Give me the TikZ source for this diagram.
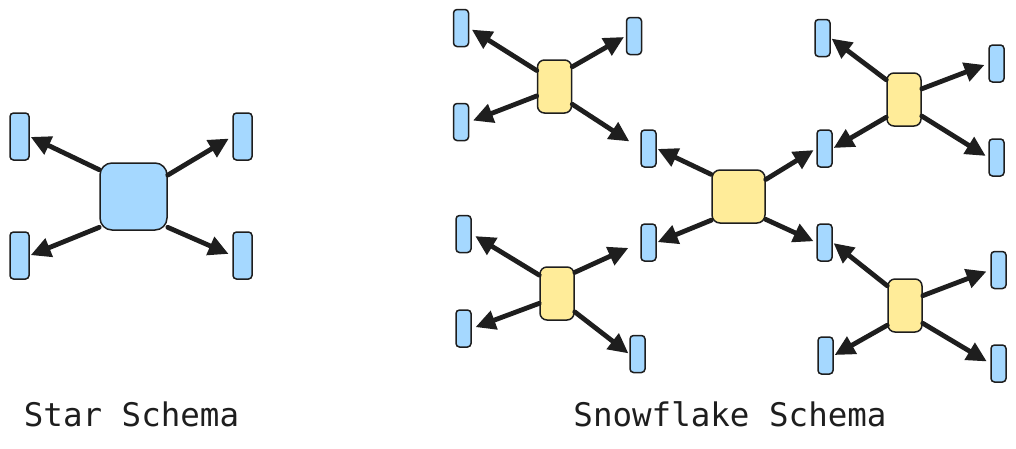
\documentclass[tikz,border=0pt]{standalone}
\usepackage{fontspec}
\newfontfamily\labelfont{DejaVu Sans Mono}
\usetikzlibrary{arrows.meta}
\definecolor{ink}{HTML}{1E1E1E}
\definecolor{dimblue}{HTML}{A5D8FF}
\definecolor{hubyellow}{HTML}{FFEC99}
\tikzset{
  dimbox/.style={draw=ink, line width=1.5pt, fill=dimblue, rounded corners=3.5pt,
    minimum width=15pt, minimum height=37pt, inner sep=0pt},
  stardim/.style={dimbox, minimum width=19pt, minimum height=47pt},
  starfact/.style={draw=ink, line width=1.5pt, fill=dimblue, rounded corners=12pt,
    minimum width=67pt, minimum height=67pt, inner sep=0pt},
  hubfact/.style={draw=ink, line width=1.5pt, fill=hubyellow, rounded corners=8pt,
    minimum width=53pt, minimum height=53pt, inner sep=0pt},
  subhub/.style={hubfact, minimum width=34pt, minimum height=53pt, rounded corners=7pt},
  link/.style={draw=ink, line width=4.8pt, line cap=round, line join=round,
    -{Triangle[length=20pt,width=19pt]}},
  caption/.style={font=\labelfont\fontsize{32.5}{36}\selectfont, text=ink, inner sep=0pt, anchor=base}
}
\begin{document}
\begin{tikzpicture}[x=1pt,y=-1pt]
\useasboundingbox (0,0) rectangle (1016,448);
% ---------- Star schema ----------
\node[starfact] (S) at (133.5,196.5) {};
\node[stardim] (s1) at (19.5,136.5) {};
\node[stardim] (s2) at (242.5,136.5) {};
\node[stardim] (s3) at (19.5,255.5) {};
\node[stardim] (s4) at (242.5,255.5) {};
\draw[link, shorten >=1pt] (S.142) -- (s1.east);
\draw[link, shorten >=4pt] (S.32) -- (s2.west);
\draw[link, shorten >=1pt] (S.222) -- (s3.east);
\draw[link, shorten >=4pt] (S.318.5) -- (s4.west);
\node[caption] (starlabel) at (131.5,426) {Star Schema};
% ---------- Snowflake schema ----------
\node[hubfact] (C) at (738.5,196.5) {};
\node[dimbox] (c1) at (648.5,148.5) {};
\node[dimbox] (c2) at (824.5,148.5) {};
\node[dimbox] (c3) at (648.5,242.5) {};
\node[dimbox] (c4) at (824.5,242.5) {};
\draw[link, shorten >=1pt] (C.141) -- (c1.east);
\draw[link, shorten >=3pt] (C.32) -- (c2.west);
\draw[link, shorten >=1pt] (C.221.6) -- (c3.east);
\draw[link, shorten >=3pt] (C.320) -- (c4.west);
% top-left hub
\node[subhub] (A) at (554.5,86.5) {};
\node[dimbox] (a1) at (461,28) {};
\node[dimbox] (a2) at (461,122) {};
\node[dimbox] (a3) at (634,36) {};
\draw[link, shorten >=3pt] (A.138.5) -- (a1.east);
\draw[link, shorten >=4pt] (A.208.5) -- (a2.east);
\draw[link, shorten >=2pt] (A.48) -- (a3.west);
\draw[link, shorten >=13pt] (A.315) -- (c1.west);
% top-right hub
\node[subhub] (B) at (904,99.5) {};
\node[dimbox] (b1) at (822.5,38) {};
\node[dimbox] (b2) at (996.5,63.5) {};
\node[dimbox] (b4) at (996.5,157.5) {};
\draw[link, shorten >=1pt] (B.132.6) -- (b1.east);
\draw[link, shorten >=4pt] (B.31.7) -- (b2.west);
\draw[link, shorten >=1pt] (B.225.8) -- (c2.east);
\draw[link, shorten >=3pt] (B.317.6) -- (b4.west);
% bottom-left hub
\node[subhub] (D) at (557,293.5) {};
\node[dimbox] (d1) at (463.5,234) {};
\node[dimbox] (d2) at (463.5,328.5) {};
\node[dimbox] (d4) at (637.5,354) {};
\draw[link, shorten >=4pt] (D.134.2) -- (d1.east);
\draw[link, shorten >=13pt] (D.50.3) -- (c3.west);
\draw[link, shorten >=4pt] (D.209.2) -- (d2.east);
\draw[link, shorten >=1pt] (D.314.2) -- (d4.west);
% bottom-right hub
\node[subhub] (E) at (905,305.5) {};
\node[dimbox] (e2) at (998.5,270) {};
\node[dimbox] (e3) at (825.5,355.5) {};
\node[dimbox] (e4) at (998.5,363.5) {};
\draw[link, shorten >=1pt] (E.132.6) -- (c4.east);
\draw[link, shorten >=4pt] (E.29.2) -- (e2.west);
\draw[link, shorten >=1pt] (E.228.9) -- (e3.east);
\draw[link, shorten >=4pt] (E.315.9) -- (e4.west);
\node[caption] (snowlabel) at (730,426) {Snowflake Schema};
\end{tikzpicture}
\end{document}
